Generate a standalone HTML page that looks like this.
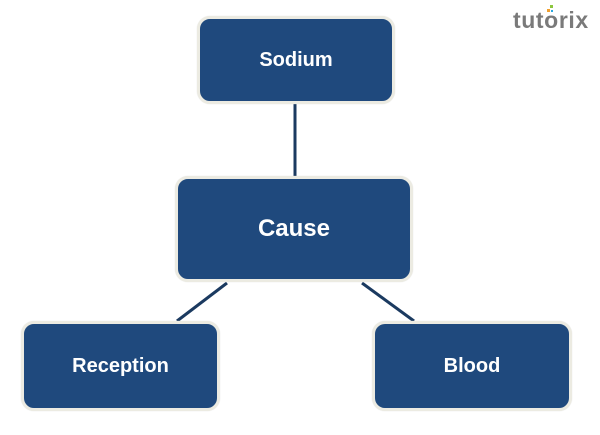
<!DOCTYPE html>
<html><head><meta charset="utf-8"><style>
html,body{margin:0;padding:0;background:#fff;}
body{width:600px;height:435px;position:relative;overflow:hidden;font-family:"Liberation Sans",sans-serif;}
.box{position:absolute;box-sizing:border-box;background:#1f497d;border:3px solid #ecebe2;border-radius:13px;color:#fff;font-weight:bold;display:flex;align-items:center;justify-content:center;box-shadow:0 0 1px #ddd;}
svg{position:absolute;left:0;top:0;}
.logo{position:absolute;left:513px;top:7px;font-size:23px;font-weight:bold;color:#7a7a7a;letter-spacing:0.6px;}
</style></head><body>
<svg width="600" height="435">
<line x1="295" y1="102" x2="295" y2="178" stroke="#1b3a60" stroke-width="3"/>
<line x1="227" y1="283" x2="177" y2="321" stroke="#1b3a60" stroke-width="3"/>
<line x1="362" y1="283" x2="414" y2="321" stroke="#1b3a60" stroke-width="3"/>
<rect x="547" y="9" width="3" height="3" fill="#f0a030"/>
<rect x="550" y="5" width="3" height="3" fill="#8cc63f"/>
<rect x="551" y="10" width="2" height="2" fill="#29a8e0"/>
</svg>
<div class="logo">tutorix</div>
<div class="box" style="left:197px;top:16px;width:198px;height:88px;font-size:20px;">Sodium</div>
<div class="box" style="left:175px;top:176px;width:238px;height:106px;font-size:24px;">Cause</div>
<div class="box" style="left:21px;top:321px;width:199px;height:90px;font-size:20px;">Reception</div>
<div class="box" style="left:372px;top:321px;width:200px;height:90px;font-size:20px;">Blood</div>
</body></html>
